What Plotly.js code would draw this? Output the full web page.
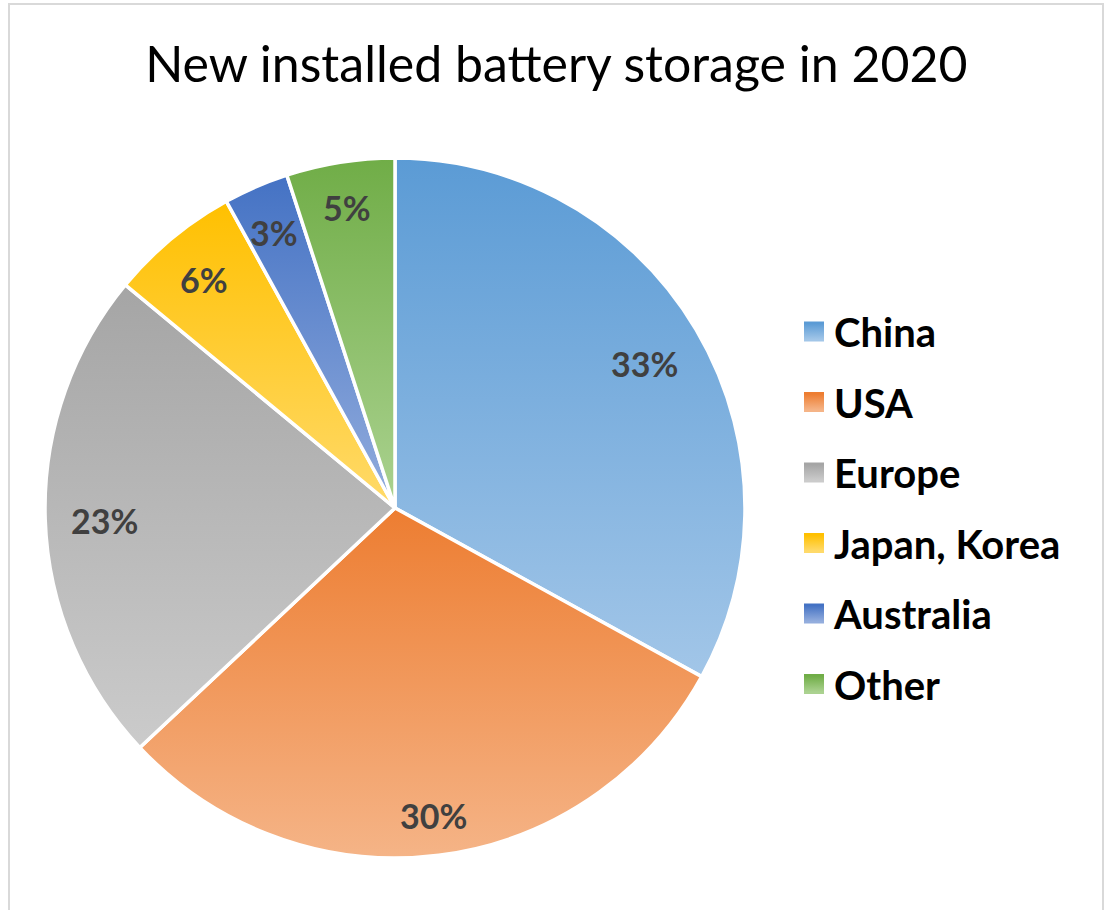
<!DOCTYPE html>
<html>
<head>
<meta charset="utf-8">
<script src="https://cdn.plot.ly/plotly-3.0.1.min.js"></script>
<style>
  html, body { margin: 0; padding: 0; background: #ffffff; }
  #chart { width: 1106px; height: 910px; }
</style>
</head>
<body>
<div id="chart"></div>
<script>
// ---- data ----
const chartTitle = 'New installed battery storage in 2020';
const labels = ['China', 'USA', 'Europe', 'Japan, Korea', 'Australia', 'Other'];
const values = [33, 30, 23, 6, 3, 5];
// gradient colours (top -> bottom) and flat fallback colours
const topColors = ['#5b9bd5', '#ed7d31', '#a5a5a5', '#ffc000', '#4472c4', '#70ad47'];
const bottomColors = ['#a2c6e8', '#f5b487', '#cbcbcb', '#ffda6a', '#93addd', '#abd290'];
const flatColors = ['#7eb0de', '#f19a5d', '#b8b8b8', '#ffcd38', '#6c8fd0', '#8ec06b'];

const W = 1106, H = 910;
const font = 'Lato, "Open Sans", sans-serif';

// pie placement (pixels)
const pieCx = 395, pieCy = 508, pieR = 350;
const labelSize = 34;
const labelEdgeMargin = 26;   // gap between label box and pie edge
const labelBoxH = 26;
const labelCharW = 0.64 * labelSize;

const traces = [{
  type: 'pie',
  labels: labels,
  values: values,
  sort: false,
  direction: 'clockwise',
  rotation: 0,
  showlegend: false,
  marker: { colors: flatColors, line: { color: '#ffffff', width: 3.5 } },
  textinfo: 'none',
  hoverinfo: 'label+percent',
  domain: { x: [(pieCx - pieR) / W, (pieCx + pieR) / W], y: [(H - pieCy - pieR) / H, (H - pieCy + pieR) / H] }
}];

// legend entries (one per category) so that entries can be spaced like the original
labels.forEach(function (lab, i) {
  traces.push({
    type: 'scatter',
    mode: 'markers',
    x: [null], y: [null],
    name: lab,
    legendgroup: 'g' + i,
    hoverinfo: 'skip',
    marker: { symbol: 'square', size: 16, color: flatColors[i], line: { color: flatColors[i], width: 4 } }
  });
});

// percentage labels placed along each slice's bisector near the rim, computed from the values
const total = values.reduce(function (a, b) { return a + b; }, 0);
const annotations = [];
let cum = 0;
values.forEach(function (v) {
  const mid = (cum + v / 2) / total * 2 * Math.PI;
  cum += v;
  const txt = Math.round(v / total * 100) + '%';
  const w = txt.length * labelCharW;
  const s = Math.sin(mid), c = Math.cos(mid);
  const d = pieR - labelEdgeMargin - (Math.abs(s) * w / 2 + Math.abs(c) * labelBoxH / 2);
  const px = pieCx + d * s;
  const py = pieCy - d * c;
  annotations.push({
    xref: 'paper', yref: 'paper',
    x: px / W, y: 1 - py / H,
    xanchor: 'center', yanchor: 'middle',
    yshift: -3,
    showarrow: false,
    text: txt,
    font: { family: font, size: labelSize, color: '#404040', weight: 'bold' }
  });
});

const layout = {
  width: W, height: H,
  margin: { l: 0, r: 0, t: 0, b: 0 },
  paper_bgcolor: '#ffffff',
  plot_bgcolor: 'rgba(0,0,0,0)',
  xaxis: { visible: false, range: [0, 1] },
  yaxis: { visible: false, range: [0, 1] },
  title: {
    text: chartTitle,
    font: { family: font, size: 50, color: '#000000' },
    x: 0.503, xanchor: 'center',
    y: 1 - 64 / H, yanchor: 'middle'
  },
  showlegend: true,
  legend: {
    x: 794 / W, xanchor: 'left',
    y: 1 - 299 / H, yanchor: 'top',
    traceorder: 'grouped',
    tracegroupgap: 15.5,
    font: { family: font, size: 40, color: '#000000', weight: 'bold' },
    bgcolor: 'rgba(0,0,0,0)'
  },
  annotations: annotations,
  shapes: [{
    type: 'rect', xref: 'paper', yref: 'paper',
    x0: 9 / W, x1: 1103 / W, y0: -0.05, y1: 1 - 4 / H,
    line: { color: '#d9d9d9', width: 2 }, fillcolor: 'rgba(0,0,0,0)', layer: 'below'
  }]
};

function applyGradients(gd) {
  const svg = gd.querySelector('svg.main-svg');
  if (!svg) return;
  const ns = 'http://www.w3.org/2000/svg';
  let defs = svg.querySelector('defs#gradDefs');
  if (!defs) {
    defs = document.createElementNS(ns, 'defs');
    defs.setAttribute('id', 'gradDefs');
    svg.insertBefore(defs, svg.firstChild);
  }
  defs.innerHTML = '';
  topColors.forEach(function (c, i) {
    const g = document.createElementNS(ns, 'linearGradient');
    g.setAttribute('id', 'sliceGrad' + i);
    g.setAttribute('x1', '0'); g.setAttribute('y1', '0');
    g.setAttribute('x2', '0'); g.setAttribute('y2', '1');
    const s0 = document.createElementNS(ns, 'stop');
    s0.setAttribute('offset', '0'); s0.setAttribute('stop-color', c);
    const s1 = document.createElementNS(ns, 'stop');
    s1.setAttribute('offset', '1'); s1.setAttribute('stop-color', bottomColors[i]);
    g.appendChild(s0); g.appendChild(s1);
    defs.appendChild(g);
  });
  gd.querySelectorAll('g.slice').forEach(function (sl) {
    const d = sl.__data__;
    const path = sl.querySelector('path.surface');
    if (d && path && typeof d.i === 'number') {
      path.style.fill = 'url(#sliceGrad' + d.i + ')';
    }
  });
  gd.querySelectorAll('g.legend g.traces').forEach(function (tr) {
    const d = tr.__data__;
    if (!d || !d[0] || !d[0].trace) return;
    const idx = d[0].trace.index - 1;
    if (idx < 0) return;
    tr.querySelectorAll('path.scatterpts').forEach(function (p) {
      p.style.fill = 'url(#sliceGrad' + idx + ')';
      p.style.stroke = 'url(#sliceGrad' + idx + ')';
    });
  });
}

const gd = document.getElementById('chart');
Plotly.newPlot(gd, traces, layout, { displayModeBar: false, staticPlot: true }).then(function () {
  applyGradients(gd);
});
</script>
</body>
</html>
